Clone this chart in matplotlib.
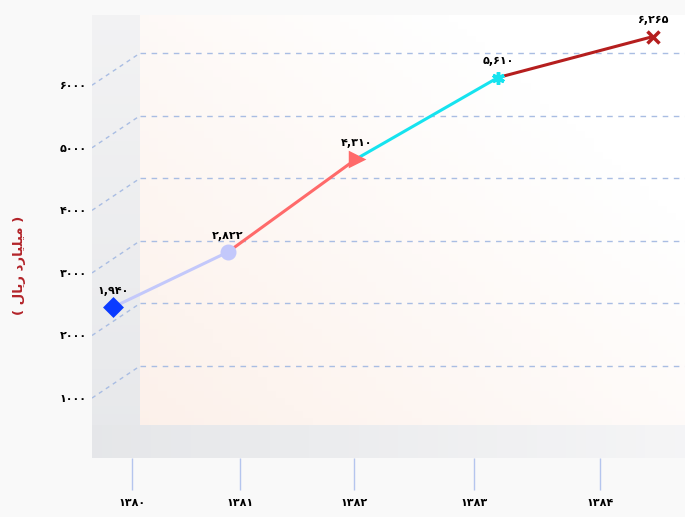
import numpy as np
import matplotlib.pyplot as plt

# ارقام سالانه (میلیارد ریال)
years = [1380, 1381, 1382, 1383, 1384]
values = [1940, 2822, 4310, 5610, 6265]
yticks = [1000, 2000, 3000, 4000, 5000, 6000]

markers = ['D', 'o', '>', (6, 2, 0), 'x']
marker_colors = ['#0b3bff', '#c3c8fb', '#ff6a6a', '#16e3ef', '#b51e1e']

FA = str.maketrans('0123456789', '۰۱۲۳۴۵۶۷۸۹')

def fa(s):
    return str(s).translate(FA)

def persp(a, b):
    # pixel offset grows a bit faster towards the back of the 3d view
    def fwd(x):
        x = np.asarray(x, dtype=float)
        return a * x + b * x * x
    def inv(p):
        p = np.asarray(p, dtype=float)
        return (-a + np.sqrt(np.maximum(a * a + 4 * b * p, 0))) / (2 * b)
    return fwd, inv

plt.rcParams['font.family'] = ['DejaVu Sans']
fig = plt.figure(figsize=(6.85, 5.17), dpi=100, facecolor='#f9f9f9')

W, H = 685.0, 517.0
rect = [92 / W, 1 - 458 / H, 593 / W, 443 / H]
ylim = (-470, 6610)
shift = 512  # front labels sit lower than the back wall grid

ax = fig.add_axes(rect)
ax.set_facecolor('none')
for s in ax.spines.values():
    s.set_visible(False)

xw = 48 / 593.0   # side wall width
fh = 33 / 443.0   # floor height

# walls
side = np.linspace(0, 1, 60)[:, None, None]
side = (1 - side) * np.array([0.905, 0.91, 0.92]) + side * np.array([0.95, 0.95, 0.955])
ax.imshow(side, extent=(0, xw, 0, 1), transform=ax.transAxes,
          origin='lower', aspect='auto', zorder=0)
gx, gy = np.meshgrid(np.linspace(0, 1, 60), np.linspace(0, 1, 60))
t = np.clip((1 - gx) * 0.7 + (1 - gy) * 0.6 - 0.3, 0, 1)[..., None]
wall = (1 - t) * np.array([1.0, 1.0, 1.0]) + t * np.array([0.99, 0.945, 0.92])
ax.imshow(wall, extent=(xw, 1, fh, 1), transform=ax.transAxes,
          origin='lower', aspect='auto', zorder=0)
floor = np.linspace(0, 1, 60)[None, :, None]
floor = (1 - floor) * np.array([0.9, 0.905, 0.915]) + floor * np.array([0.96, 0.96, 0.965])
ax.imshow(floor, extent=(0, 1, 0, fh), transform=ax.transAxes,
          origin='lower', aspect='auto', zorder=0)

# grid on the back wall and its slant across the side wall
ax.hlines(yticks, xw, 1, transform=ax.get_yaxis_transform(),
          colors='#a9bde3', linestyles=(0, (4, 4)), lw=1, zorder=1)
for v in yticks:
    ax.plot([0, xw], [v - shift, v], transform=ax.get_yaxis_transform(),
            color='#a9bde3', ls=(0, (3, 3)), lw=1, zorder=1)

fwd, inv = persp(108.3, 6.67)
ax.set_xscale('function', functions=(fwd, inv))
ax.set_xlim(float(inv(92 - 113)), float(inv(685 - 113)))
ax.set_ylim(*ylim)
ax.set_xticks([])
ax.set_yticks([])

x = np.arange(len(values))
for i in range(len(values) - 1):
    ax.plot(x[i:i + 2], values[i:i + 2], color=marker_colors[i + 1],
            lw=2.2, zorder=3, solid_capstyle='butt')
for i, v in enumerate(values):
    ms = 9 if markers[i] != 'D' else 8
    ax.plot(x[i], v, marker=markers[i], color=marker_colors[i], ms=ms,
            mew=2.5, ls='none', zorder=4, clip_on=False)
    ax.annotate(fa(f'{v:,}'), (x[i], v), xytext=(0, 8), textcoords='offset points',
                ha='center', va='bottom', fontsize=8, fontweight='bold', zorder=5)

# axis labels on the front edge
front = fig.add_axes(rect)
front.set_facecolor('none')
for s in front.spines.values():
    s.set_visible(False)
hf, hinv = persp(105, 3)
front.set_xscale('function', functions=(hf, hinv))
front.set_xlim(float(hinv(92 - 132)), float(hinv(685 - 132)))
front.set_ylim(ylim[0] + shift, ylim[1] + shift)
front.set_xticks(range(len(years)))
front.set_xticklabels([fa(y) for y in years], fontsize=8, fontweight='bold')
front.set_yticks(yticks)
front.set_yticklabels([fa(v) for v in yticks], fontsize=8, fontweight='bold')
front.tick_params(axis='x', length=23, width=1, color='#b5c5ee', pad=6)
front.tick_params(axis='y', length=0, pad=4)

title = '( ' + '\ufedd\ufe8e\ufef3\ufead' + ' ' + '\ufea9\ufead\ufe8e\ufef4\ufee0\ufef4\ufee3' + ' )'
fig.text(20 / W, 1 - 265 / H, title, rotation=90, ha='center', va='center',
         color='#b3242a', fontsize=9.5, fontweight='bold')

fig.savefig('out.png', dpi=100, facecolor=fig.get_facecolor())
